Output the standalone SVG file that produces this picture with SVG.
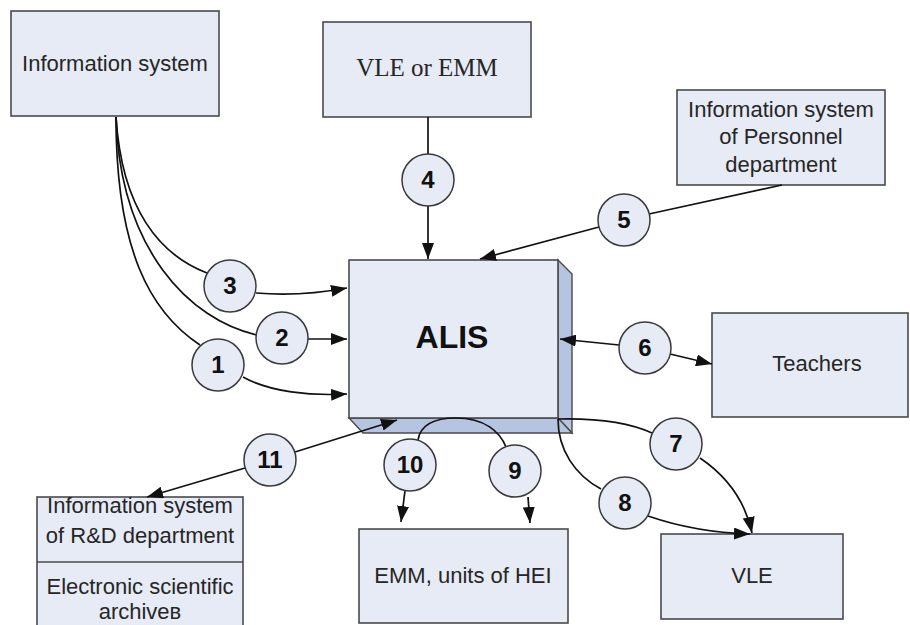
<svg xmlns="http://www.w3.org/2000/svg" width="910" height="625" viewBox="0 0 910 625">
  <style>
    .box { fill: #e6ebf5; stroke: #4a4a4a; stroke-width: 1.6; }
    .side { fill: #b5c4e1; stroke: #4a4a4a; stroke-width: 1.4; }
    .num { fill: #e6ebf5; stroke: #3a3a3a; stroke-width: 1.5; }
    .lbl { font-family: "Liberation Sans", Arial, sans-serif; font-size: 22px; fill: #262626; text-anchor: middle; }
    .serif { font-family: "Liberation Serif", "Times New Roman", serif; font-size: 25px; fill: #262626; text-anchor: middle; }
    .bold { font-family: "Liberation Sans", Arial, sans-serif; font-weight: bold; fill: #111; text-anchor: middle; }
    .n { font-size: 24px; }
    .wire { fill: none; stroke: #111; stroke-width: 1.7; }
  </style>
  <defs>
    <marker id="arrow" viewBox="0 0 16 12" refX="16" refY="6" markerWidth="16" markerHeight="12" markerUnits="userSpaceOnUse" orient="auto-start-reverse">
      <path d="M0,0 L16,6 L0,12 z" fill="#111"/>
    </marker>
  </defs>
  <rect width="910" height="625" fill="#ffffff"/>

  <!-- nodes -->
  <g id="info-system">
    <rect class="box" x="11" y="11" width="208" height="105"/>
    <text class="lbl" x="115" y="71">Information system</text>
  </g>
  <g id="vle-or-emm">
    <rect class="box" x="323" y="22" width="208" height="95"/>
    <text class="serif" x="427" y="76">VLE or EMM</text>
  </g>
  <g id="personnel">
    <rect class="box" x="677" y="90" width="208" height="95"/>
    <text class="lbl" x="781" y="117">Information system</text>
    <text class="lbl" x="781" y="144">of Personnel</text>
    <text class="lbl" x="781" y="172">department</text>
  </g>
  <g id="alis">
    <polygon class="side" points="558,260 572,274 572,433 558,418"/>
    <polygon class="side" points="349,418 558,418 572,433 363,433"/>
    <rect class="box" x="349" y="260" width="209" height="158"/>
    <text class="bold" x="452" y="348" font-size="32">ALIS</text>
  </g>
  <g id="teachers">
    <rect class="box" x="712" y="313" width="196" height="104"/>
    <text class="lbl" x="817" y="371">Teachers</text>
  </g>
  <g id="vle">
    <rect class="box" x="661" y="534" width="182" height="85"/>
    <text class="lbl" x="752" y="583">VLE</text>
  </g>
  <g id="emm-units">
    <rect class="box" x="359" y="529" width="209" height="94"/>
    <text class="lbl" x="463" y="583" font-size="21">EMM, units of HEI</text>
  </g>
  <g id="rd-department">
    <rect class="box" x="37" y="497" width="206" height="140"/>
    <line x1="37" y1="562" x2="243" y2="562" stroke="#4a4a4a" stroke-width="1.6"/>
    <text class="lbl" x="140" y="513">Information system</text>
    <text class="lbl" x="140" y="543">of R&amp;D department</text>
    <text class="lbl" x="140" y="594">Electronic scientific</text>
    <text class="lbl" x="140" y="619">archiveв</text>
  </g>

  <!-- connectors -->
  <g id="connectors">
    <path class="wire" d="M116,117 C116,250 150,312 200,345"/>
    <path class="wire" d="M243,377 C270,392 310,396 347,394" marker-end="url(#arrow)"/>
    <path class="wire" d="M116,117 C120,250 190,320 257,335"/>
    <path class="wire" d="M308,339 L347,339" marker-end="url(#arrow)"/>
    <path class="wire" d="M116,117 C122,210 160,255 207,273"/>
    <path class="wire" d="M256,293 C290,296 320,293 347,288" marker-end="url(#arrow)"/>
    <path class="wire" d="M428,117 L428,154"/>
    <path class="wire" d="M428,206 L428,259" marker-end="url(#arrow)"/>
    <path class="wire" d="M782,185 L649,214"/>
    <path class="wire" d="M599,227 L480,259" marker-end="url(#arrow)"/>
    <path class="wire" d="M619,345 L560,339" marker-end="url(#arrow)"/>
    <path class="wire" d="M670,354 L712,364" marker-end="url(#arrow)"/>
    <path class="wire" d="M558,419 C600,418 630,423 652,433"/>
    <path class="wire" d="M700,458 C725,475 745,500 752,533" marker-end="url(#arrow)"/>
    <path class="wire" d="M558,419 C558,450 575,475 601,489"/>
    <path class="wire" d="M648,516 C680,527 715,533 750,534" marker-end="url(#arrow)"/>
    <path class="wire" d="M456,418 C485,418 500,432 506,447"/>
    <path class="wire" d="M528,497 L530,523" marker-end="url(#arrow)"/>
    <path class="wire" d="M456,418 C430,418 420,428 418,440"/>
    <path class="wire" d="M405,491 L401,522" marker-end="url(#arrow)"/>
    <path class="wire" d="M295,452 L397,420" marker-end="url(#arrow)"/>
    <path class="wire" d="M245,468 L147,497" marker-end="url(#arrow)"/>
  </g>

  <!-- numbered flow markers -->
  <g id="flow-1"><circle class="num" cx="218" cy="365" r="26"/><text class="bold n" x="218" y="373">1</text></g>
  <g id="flow-2"><circle class="num" cx="282" cy="338" r="26"/><text class="bold n" x="282" y="346">2</text></g>
  <g id="flow-3"><circle class="num" cx="230" cy="286" r="26"/><text class="bold n" x="230" y="294">3</text></g>
  <g id="flow-4"><circle class="num" cx="428" cy="180" r="26"/><text class="bold n" x="428" y="188">4</text></g>
  <g id="flow-5"><circle class="num" cx="624" cy="220" r="26"/><text class="bold n" x="624" y="228">5</text></g>
  <g id="flow-6"><circle class="num" cx="645" cy="348" r="26"/><text class="bold n" x="645" y="356">6</text></g>
  <g id="flow-7"><circle class="num" cx="676" cy="444" r="26"/><text class="bold n" x="676" y="452">7</text></g>
  <g id="flow-8"><circle class="num" cx="625" cy="503" r="26"/><text class="bold n" x="625" y="511">8</text></g>
  <g id="flow-9"><circle class="num" cx="515" cy="471" r="26"/><text class="bold n" x="515" y="479">9</text></g>
  <g id="flow-10"><circle class="num" cx="410" cy="465" r="26"/><text class="bold n" x="410" y="473">10</text></g>
  <g id="flow-11"><circle class="num" cx="270" cy="460" r="26"/><text class="bold n" x="270" y="468">11</text></g>
</svg>
